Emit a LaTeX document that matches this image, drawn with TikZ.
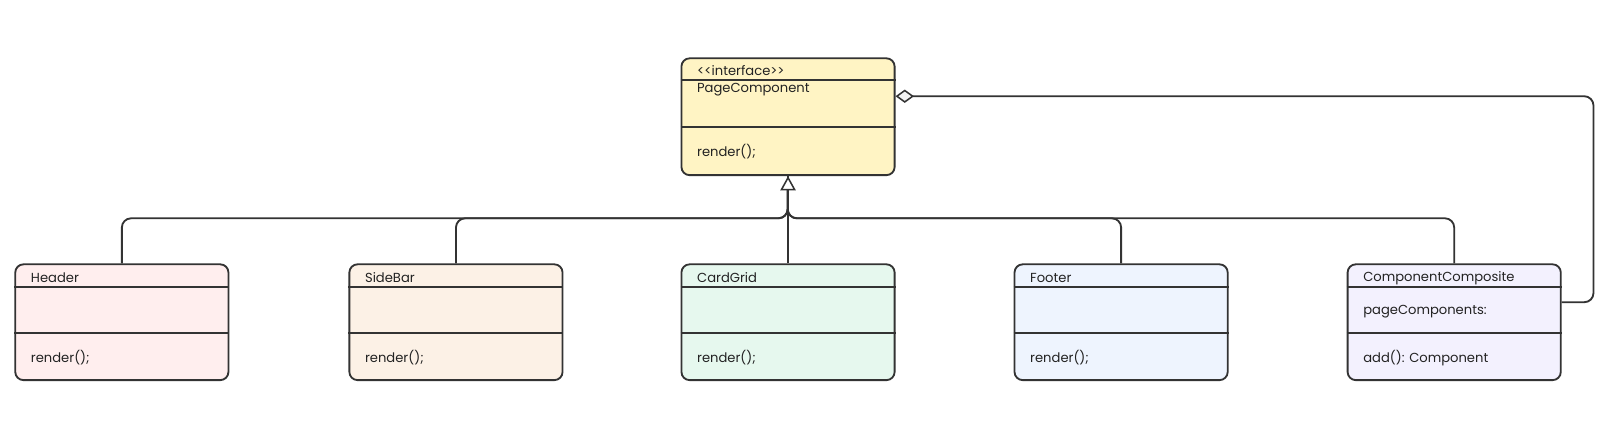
\documentclass[tikz,border=0pt]{standalone}
\usepackage{fontspec}
\setmainfont{Poppins}
\usetikzlibrary{arrows.meta,positioning}

\definecolor{linecol}{HTML}{333333}
\definecolor{txtcol}{HTML}{222222}
\definecolor{ifacefill}{HTML}{FFF4C4}
\definecolor{headerfill}{HTML}{FFEEEE}
\definecolor{sidebarfill}{HTML}{FCF1E6}
\definecolor{cardfill}{HTML}{E6F8EE}
\definecolor{footerfill}{HTML}{EEF4FE}
\definecolor{compfill}{HTML}{F3F1FE}
\definecolor{diafill}{HTML}{F2F2F2}

\tikzset{
    classbox/.style={draw=linecol, line width=1.8pt, rounded corners=8pt, minimum width=208pt, minimum height=113pt, inner sep=0pt, anchor=north west},
    classtext/.style={anchor=west, inner sep=0pt, font=\fontsize{12.8}{15}\selectfont, text=txtcol},
    divider/.style={draw=linecol, line width=1.5pt},
    link/.style={draw=linecol, line width=1.8pt, rounded corners=9pt},
}

\begin{document}
\begin{tikzpicture}[x=1pt,y=1pt,yscale=-1]
    \useasboundingbox (0,0) rectangle (1568,417);

    %Class: PageComponent (interface)
    \node[classbox, fill=ifacefill, minimum height=114pt] (iface) at (664,56) {};
    \draw[divider] ([yshift=22pt]iface.north west) -- ([yshift=22pt]iface.north east);
    \draw[divider] ([yshift=68pt]iface.north west) -- ([yshift=68pt]iface.north east);
    \node[classtext] (ifacest) at ([xshift=16pt,yshift=13pt]iface.north west) {{<}{<}interface{>}{>}};
    \node[classtext] (ifacenm) at ([xshift=16pt,yshift=31pt]iface.north west) {PageComponent};
    \node[classtext] (ifacemt) at ([xshift=16pt,yshift=92pt]iface.north west) {render();};

    %Class: Header
    \node[classbox, fill=headerfill] (header) at (14,257) {};
    \draw[divider] ([yshift=23pt]header.north west) -- ([yshift=23pt]header.north east);
    \draw[divider] ([yshift=68pt]header.north west) -- ([yshift=68pt]header.north east);
    \node[classtext] (headernm) at ([xshift=16pt,yshift=14pt]header.north west) {Header};
    \node[classtext] (headermt) at ([xshift=16pt,yshift=92pt]header.north west) {render();};

    %Class: SideBar
    \node[classbox, fill=sidebarfill] (sidebar) at (340,257) {};
    \draw[divider] ([yshift=23pt]sidebar.north west) -- ([yshift=23pt]sidebar.north east);
    \draw[divider] ([yshift=68pt]sidebar.north west) -- ([yshift=68pt]sidebar.north east);
    \node[classtext] (sidebarnm) at ([xshift=16pt,yshift=14pt]sidebar.north west) {SideBar};
    \node[classtext] (sidebarmt) at ([xshift=16pt,yshift=92pt]sidebar.north west) {render();};

    %Class: CardGrid
    \node[classbox, fill=cardfill] (cardgrid) at (664,257) {};
    \draw[divider] ([yshift=23pt]cardgrid.north west) -- ([yshift=23pt]cardgrid.north east);
    \draw[divider] ([yshift=68pt]cardgrid.north west) -- ([yshift=68pt]cardgrid.north east);
    \node[classtext] (cardgridnm) at ([xshift=16pt,yshift=14pt]cardgrid.north west) {CardGrid};
    \node[classtext] (cardgridmt) at ([xshift=16pt,yshift=92pt]cardgrid.north west) {render();};

    %Class: Footer
    \node[classbox, fill=footerfill] (footer) at (989,257) {};
    \draw[divider] ([yshift=23pt]footer.north west) -- ([yshift=23pt]footer.north east);
    \draw[divider] ([yshift=68pt]footer.north west) -- ([yshift=68pt]footer.north east);
    \node[classtext] (footernm) at ([xshift=16pt,yshift=14pt]footer.north west) {Footer};
    \node[classtext] (footermt) at ([xshift=16pt,yshift=92pt]footer.north west) {render();};

    %Class: ComponentComposite
    \node[classbox, fill=compfill] (composite) at (1314,257) {};
    \draw[divider] ([yshift=23pt]composite.north west) -- ([yshift=23pt]composite.north east);
    \draw[divider] ([yshift=68pt]composite.north west) -- ([yshift=68pt]composite.north east);
    \node[classtext] (compositenm) at ([xshift=16pt,yshift=14pt]composite.north west) {ComponentComposite};
    \node[classtext] (compositeat) at ([xshift=16pt,yshift=47pt]composite.north west) {pageComponents:};
    \node[classtext] (compositemt) at ([xshift=16pt,yshift=92pt]composite.north west) {add(): Component};

    %Inheritance lines
    \coordinate (bus) at (768.5,213);
    \draw[link] (header.north) |- (bus) -- (iface.south);
    \draw[link] (sidebar.north) |- (bus) -- (iface.south);
    \draw[link] (footer.north) |- (bus) -- (iface.south);
    \draw[link] (composite.north) |- (bus) -- (iface.south);
    \draw[link, -{Triangle[open, length=14pt, width=15pt, fill=white, line width=1.5pt]}] (cardgrid.north) -- (iface.south);

    %Aggregation
    \draw[link, {Diamond[length=18pt, width=13pt, fill=diafill, line width=1.5pt]}-] ([yshift=-20pt]iface.east) -| ([xshift=31pt,yshift=-19.5pt]composite.east) -- ([yshift=-19.5pt]composite.east);

\end{tikzpicture}
\end{document}
